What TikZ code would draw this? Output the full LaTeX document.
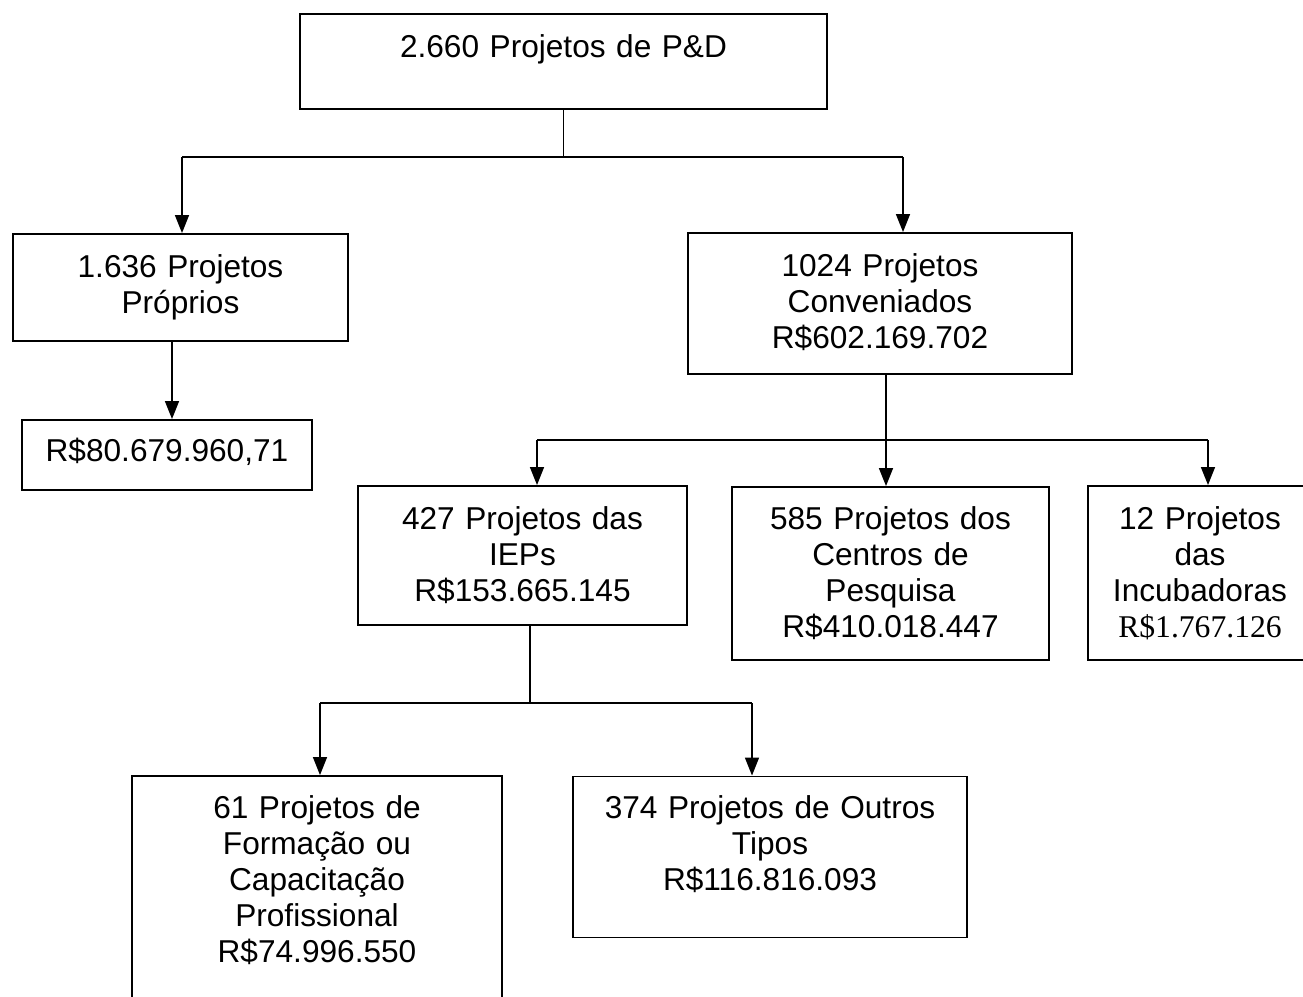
\documentclass[tikz,border=0pt]{standalone}
\usepackage{fontspec}
\setmainfont{Liberation Sans}
\newfontfamily\timesfam{Liberation Serif}
\usetikzlibrary{arrows.meta}
\begin{document}
\begin{tikzpicture}[x=0.02cm,y=-0.02cm,
  box/.style={draw=black, line width=1.1pt, inner sep=0pt},
  txt/.style={anchor=base, align=center, inner sep=0pt, text width=#1,
    font=\fontsize{18}{20.6}\selectfont},
  conn/.style={line width=0.85pt},
  arr/.style={conn, -{Triangle[length=0.36cm,width=0.28cm]}}]
\useasboundingbox (0,0) rectangle (1303,997);
% boxes
\node[box, minimum width=10.54cm, minimum height=1.9cm] (top) at (563.5,61.5) {};
\node[box, minimum width=6.7cm, minimum height=2.14cm] (left) at (180.5,287.5) {};
\node[box, minimum width=5.8cm, minimum height=1.4cm] (r80) at (167,455) {};
\node[box, minimum width=7.68cm, minimum height=2.82cm] (conv) at (880,303.5) {};
\node[box, minimum width=6.58cm, minimum height=2.78cm] (ieps) at (522.5,555.5) {};
\node[box, minimum width=6.34cm, minimum height=3.46cm] (cent) at (890.5,573.5) {};
\node[box, minimum width=4.48cm, minimum height=3.48cm] (incub) at (1200,573) {};
\node[box, minimum width=7.4cm, minimum height=4.68cm] (f61) at (317,893) {};
\node[box, minimum width=7.88cm, minimum height=3.22cm] (o374) at (770,857) {};
% texts
\node[txt=10cm] (topt) at (563.5,58) {2.660 Projetos de P\&D};
\node[txt=6.4cm] (leftt) at (180.5,277) {1.636 Projetos\\Próprios};
\node[txt=5.6cm] (r80t) at (167,461) {R\$80.679.960,71};
\node[txt=7.4cm] (convt) at (880,276) {1024 Projetos\\Conveniados\\R\$602.169.702};
\node[txt=6.3cm] (iepst) at (522.5,529) {427 Projetos das\\IEPs\\R\$153.665.145};
\node[txt=6.1cm] (centt) at (890.5,529) {585 Projetos dos\\Centros de\\Pesquisa\\R\$410.018.447};
\node[txt=4.3cm] (incubt) at (1200,529) {12 Projetos\\das\\Incubadoras\\{\timesfam R\$1.767.126}};
\node[txt=7.1cm] (f61t) at (317,818) {61 Projetos de\\Formação ou\\Capacitação\\Profissional\\R\$74.996.550};
\node[txt=7.6cm] (o374t) at (770,818) {374 Projetos de Outros\\Tipos\\R\$116.816.093};
% connectors
\coordinate (b1l) at (182,157);
\coordinate (b1r) at (903,157);
\draw[conn] (top.south) -- (top.south |- b1l);
\draw[conn] (b1l) -- (b1r);
\draw[arr] (b1l) -- (b1l |- left.north);
\draw[arr] (b1r) -- (b1r |- conv.north);
\coordinate (a1) at (172,380);
\draw[arr] (a1 |- left.south) -- (a1 |- r80.north);
\coordinate (c0) at (886,440);
\coordinate (c1) at (537,440);
\coordinate (c2) at (1208,440);
\draw[arr] (c0 |- conv.south) -- (c0 |- cent.north);
\draw[conn] (c1) -- (c2);
\draw[arr] (c1) -- (c1 |- ieps.north);
\draw[arr] (c2) -- (c2 |- incub.north);
\coordinate (d0) at (530,703);
\coordinate (d1) at (320,703);
\coordinate (d2) at (752,703);
\draw[conn] (d0 |- ieps.south) -- (d0);
\draw[conn] (d1) -- (d2);
\draw[arr] (d1) -- (d1 |- f61.north);
\draw[arr] (d2) -- (d2 |- o374.north);
\end{tikzpicture}
\end{document}
